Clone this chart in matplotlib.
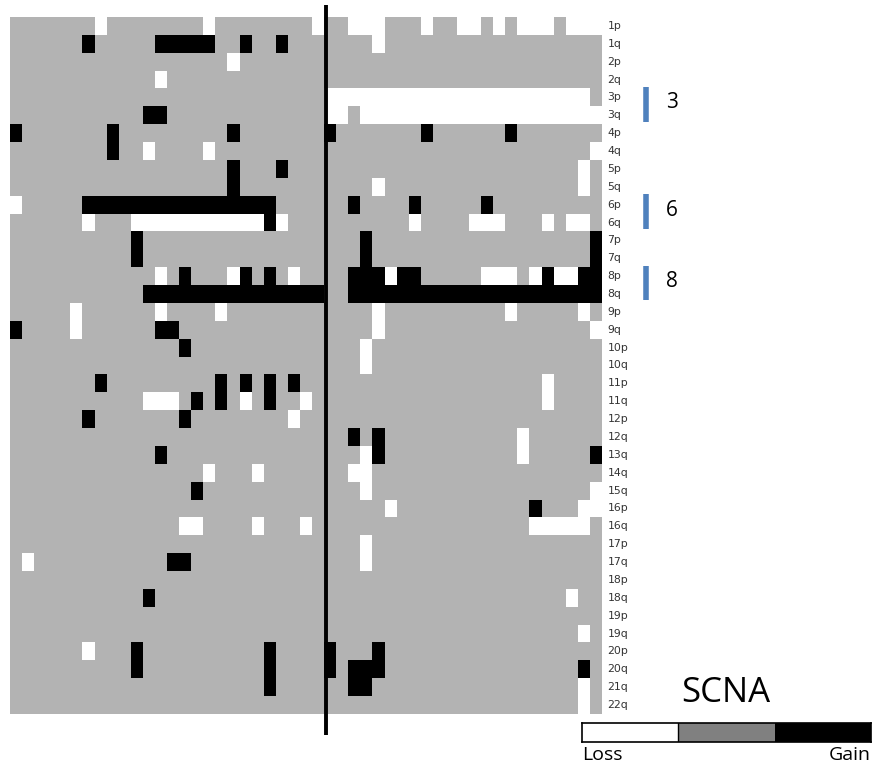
import numpy as np
import matplotlib.pyplot as plt
from matplotlib.colors import ListedColormap

arms = ['1p', '1q', '2p', '2q', '3p', '3q', '4p', '4q', '5p', '5q', '6p', '6q',
        '7p', '7q', '8p', '8q', '9p', '9q', '10p', '10q', '11p', '11q', '12p', '12q',
        '13q', '14q', '15q', '16p', '16q', '17p', '17q', '18p', '18q', '19p', '19q',
        '20p', '20q', '21q', '22q']
n_samples = 49
split_at = 26

# columns with loss (white) per arm
loss = [
    [7, 16, 25, 28, 29, 30, 34, 37, 38, 40, 42, 43, 44, 46, 47, 48],
    [30], [18], [12],
    list(range(26, 48)),
    [26, 27] + list(range(29, 49)),
    [], [11, 16, 48], [47], [30, 47], [0],
    [6] + list(range(10, 21)) + [22, 33, 38, 39, 40, 44, 46, 47],
    [], [], [12, 18, 23, 31, 39, 40, 41, 43, 45, 46], [],
    [5, 12, 17, 30, 41, 47], [5, 30, 48], [29], [29], [44],
    [11, 12, 13, 19, 24, 44], [23], [42], [29, 42], [16, 20, 28, 29],
    [29, 48], [31, 47, 48], [14, 15, 20, 24, 43, 44, 45, 46, 47],
    [29], [1, 29], [], [46], [], [47], [6], [], [47], [47],
]

# columns with gain (black) per arm
gain = [
    [], [6, 12, 13, 14, 15, 16, 19, 22], [], [], [], [11, 12],
    [0, 8, 18, 26, 34, 41], [8], [18, 22], [18],
    list(range(6, 22)) + [28, 33, 39], [21],
    [10, 29, 48], [10, 29, 48],
    [14, 19, 21, 28, 29, 30, 32, 33, 44, 47, 48],
    list(range(11, 26)) + list(range(28, 49)),
    [], [0, 12, 13], [14], [], [7, 17, 19, 21, 23], [15, 17, 21], [6, 14],
    [28, 30], [12, 30, 48], [], [15], [43], [], [], [13, 14], [], [11],
    [], [], [10, 21, 26, 30], [10, 21, 26, 28, 29, 30, 47], [21, 28, 29], [],
]

marked = {'3': ('3p', '3q'), '6': ('6p', '6q'), '8': ('8p', '8q')}

M = np.zeros((len(arms), n_samples))
for i in range(len(arms)):
    M[i, loss[i]] = -1
    M[i, gain[i]] = 1

W, H = 872, 766
fig = plt.figure(figsize=(W / 100, H / 100), dpi=100)
ax = fig.add_axes([10 / W, 1 - 714 / H, 592 / W, 697 / H])
cmap = ListedColormap(['white', '#b3b3b3', 'black'])
ax.imshow(M, cmap=cmap, vmin=-1.5, vmax=1.5, aspect='auto',
          extent=[0, n_samples, len(arms), 0], interpolation='nearest')
ax.set_xlim(0, n_samples)
ax.set_ylim(len(arms), 0)
ax.axis('off')

# divider between sample groups
ax.plot([split_at + 0.15, split_at + 0.15], [-0.67, 40.2], color='black',
        lw=2.8, clip_on=False, solid_capstyle='butt')

for i, a in enumerate(arms):
    ax.text(n_samples + 0.45, i + 0.5, a, fontsize=7.8, color='#333333',
            va='center', ha='left')

for num, (a0, a1) in marked.items():
    r0, r1 = arms.index(a0), arms.index(a1)
    ax.plot([52.65, 52.65], [r0 - 0.08, r1 + 0.85], color='#4f81bd', lw=4,
            clip_on=False, solid_capstyle='butt')
    ax.text(54.3, (r0 + r1 + 1) / 2 - 0.2, num, fontsize=15, va='center',
            ha='left', family='Open Sans')

# legend bar
cax = fig.add_axes([582 / W, 1 - 742 / H, 289 / W, 19 / H])
cax.imshow([[-1, 0, 1]], cmap=ListedColormap(['white', '#808080', 'black']),
           aspect='auto', extent=[0, 3, 0, 1])
cax.axvline(1, color='black', lw=1)
cax.set_xticks([])
cax.set_yticks([])
for s in cax.spines.values():
    s.set_linewidth(1.2)
fig.text(726 / W, 1 - 693 / H, 'SCNA', fontsize=25, ha='center', va='center',
         family='Open Sans')
fig.text(582 / W, 1 - 755 / H, 'Loss', fontsize=14, ha='left', va='center',
         family='Open Sans')
fig.text(871 / W, 1 - 755 / H, 'Gain', fontsize=14, ha='right', va='center',
         family='Open Sans')

fig.savefig('out.png', dpi=100)
